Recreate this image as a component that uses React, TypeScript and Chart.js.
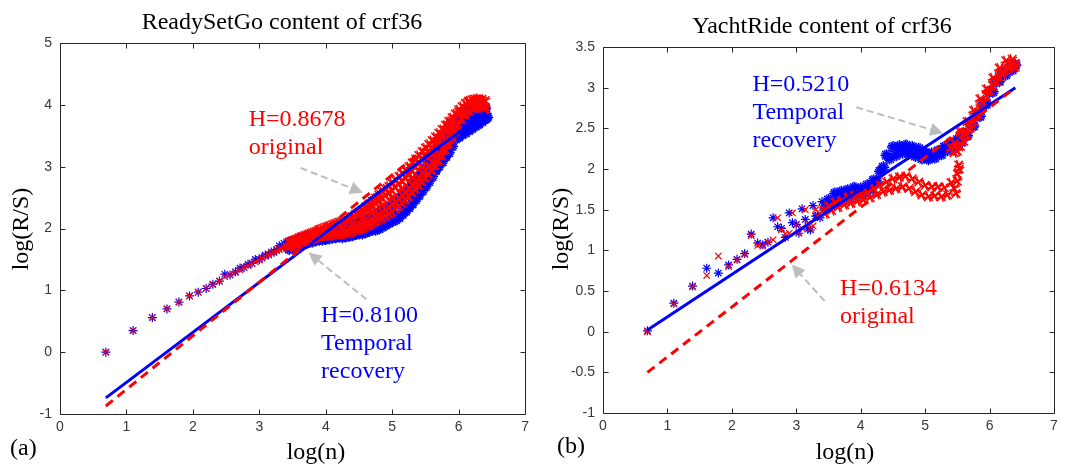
import React, { useEffect, useRef } from "react";
import { Chart, registerables } from "chart.js";
Chart.register(...registerables);

// ---------- shared x positions ----------
const lowX = [0.69, 1.1, 1.39, 1.61, 1.79, 1.95, 2.08, 2.2, 2.3, 2.4, 2.48, 2.56, 2.64, 2.71, 2.77, 2.83, 2.89, 2.94, 3.0, 3.04, 3.09, 3.14, 3.18, 3.22, 3.26, 3.3, 3.33, 3.37, 3.4];
const denseX = [3.45, 3.5, 3.55, 3.6, 3.65, 3.7, 3.75, 3.8, 3.85, 3.9, 3.95, 4.0, 4.05, 4.1, 4.15, 4.2, 4.25, 4.3, 4.35, 4.4, 4.45, 4.5, 4.55, 4.6, 4.65, 4.7, 4.75, 4.8, 4.85, 4.9, 4.95, 5.0, 5.05, 5.1, 5.15, 5.2, 5.25, 5.3, 5.35, 5.4, 5.45, 5.5, 5.55, 5.6, 5.65, 5.7, 5.75, 5.8, 5.85, 5.9, 5.95, 6.0, 6.05, 6.1, 6.15, 6.2, 6.25, 6.3, 6.35, 6.4];
const fitX = [0.69, 6.4];

// ---------- (a) ReadySetGo ----------
const aRedLowY = [0.0, 0.35, 0.56, 0.7, 0.81, 0.91, 0.97, 1.03, 1.09, 1.15, 1.22, 1.25, 1.29, 1.33, 1.37, 1.4, 1.43, 1.46, 1.49, 1.52, 1.55, 1.57, 1.6, 1.61, 1.64, 1.66, 1.68, 1.7, 1.71];
const aBlueLowY = [0.0, 0.35, 0.56, 0.7, 0.81, 0.91, 0.97, 1.03, 1.1, 1.15, 1.26, 1.25, 1.3, 1.36, 1.37, 1.42, 1.44, 1.5, 1.5, 1.53, 1.57, 1.58, 1.62, 1.62, 1.66, 1.72, 1.69, 1.76, 1.72];
const aRedMidY = [1.77, 1.76, 1.75, 1.83, 1.82, 1.81, 1.9, 1.88, 1.86, 1.97, 1.94, 1.9, 2.02, 1.98, 1.93, 2.06, 2.01, 1.97, 2.12, 2.07, 2.02, 2.2, 2.15, 2.1, 2.31, 2.26, 2.2, 2.43, 2.38, 2.31, 2.56, 2.5, 2.43, 2.71, 2.65, 2.58, 2.88, 2.82, 2.76, 3.06, 3.0, 2.94, 3.24, 3.18, 3.13, 3.44, 3.39, 3.35, 3.66, 3.63, 3.61, 3.88, 3.87, 3.86, 4.04, 4.01, 3.97, 4.08, 4.02, 3.96];
const aRedTopY = [1.78, 1.8, 1.82, 1.85, 1.87, 1.89, 1.91, 1.93, 1.95, 1.98, 2.0, 2.02, 2.04, 2.06, 2.08, 2.1, 2.11, 2.14, 2.17, 2.19, 2.23, 2.26, 2.3, 2.35, 2.39, 2.44, 2.49, 2.54, 2.59, 2.64, 2.68, 2.73, 2.78, 2.84, 2.89, 2.94, 3.0, 3.06, 3.12, 3.18, 3.24, 3.3, 3.36, 3.42, 3.48, 3.54, 3.6, 3.67, 3.73, 3.79, 3.85, 3.92, 3.97, 4.02, 4.06, 4.08, 4.09, 4.1, 4.09, 4.07];
const aRedBotY = [1.7, 1.72, 1.74, 1.75, 1.77, 1.79, 1.81, 1.83, 1.85, 1.86, 1.88, 1.88, 1.88, 1.9, 1.9, 1.9, 1.91, 1.92, 1.93, 1.95, 1.97, 1.98, 2.0, 2.03, 2.05, 2.08, 2.11, 2.14, 2.17, 2.2, 2.24, 2.27, 2.32, 2.36, 2.41, 2.46, 2.52, 2.58, 2.64, 2.7, 2.76, 2.82, 2.88, 2.94, 3.02, 3.1, 3.18, 3.27, 3.37, 3.47, 3.57, 3.68, 3.77, 3.84, 3.9, 3.94, 3.95, 3.96, 3.95, 3.93];
const aRedWideX = [4.5, 4.55, 4.6, 4.65, 4.7, 4.75, 4.8, 4.85, 4.9, 4.95, 5.0, 5.05, 5.1, 5.15, 5.2, 5.25, 5.3, 5.35, 5.4, 5.45, 5.5, 5.55, 5.6, 5.65, 5.7, 5.75, 5.8, 5.85, 5.9];
const aRedWideHiY = [2.24, 2.27, 2.31, 2.34, 2.38, 2.42, 2.46, 2.5, 2.54, 2.58, 2.62, 2.67, 2.72, 2.77, 2.82, 2.88, 2.94, 3.0, 3.06, 3.12, 3.18, 3.24, 3.3, 3.37, 3.44, 3.51, 3.59, 3.67, 3.74];
const aRedWideLoY = [2.0, 2.03, 2.07, 2.1, 2.14, 2.18, 2.22, 2.26, 2.3, 2.34, 2.38, 2.43, 2.48, 2.53, 2.58, 2.64, 2.7, 2.76, 2.82, 2.88, 2.94, 3.0, 3.06, 3.13, 3.2, 3.27, 3.35, 3.43, 3.51];
const aBlueMidY = [1.75, 1.74, 1.73, 1.82, 1.8, 1.77, 1.87, 1.84, 1.82, 1.91, 1.88, 1.84, 1.95, 1.91, 1.87, 1.99, 1.94, 1.89, 2.02, 1.97, 1.92, 2.07, 2.02, 1.97, 2.13, 2.08, 2.03, 2.21, 2.16, 2.1, 2.31, 2.25, 2.19, 2.43, 2.38, 2.32, 2.6, 2.55, 2.5, 2.81, 2.76, 2.71, 3.03, 2.99, 2.95, 3.25, 3.21, 3.18, 3.46, 3.47, 3.48, 3.73, 3.76, 3.79, 3.9, 3.88, 3.86, 3.92, 3.89, 3.86];
const aBlueTopY = [1.77, 1.79, 1.81, 1.83, 1.85, 1.86, 1.88, 1.89, 1.91, 1.92, 1.94, 1.95, 1.96, 1.97, 1.98, 1.99, 2.02, 2.03, 2.04, 2.05, 2.07, 2.08, 2.12, 2.14, 2.16, 2.18, 2.24, 2.26, 2.29, 2.32, 2.35, 2.38, 2.44, 2.48, 2.53, 2.58, 2.64, 2.7, 2.77, 2.84, 2.91, 2.98, 3.06, 3.14, 3.2, 3.27, 3.34, 3.42, 3.49, 3.59, 3.63, 3.73, 3.82, 3.89, 3.92, 3.94, 3.95, 3.96, 3.95, 3.94];
const aBlueBotY = [1.67, 1.69, 1.71, 1.73, 1.75, 1.76, 1.78, 1.79, 1.81, 1.82, 1.82, 1.83, 1.84, 1.85, 1.86, 1.87, 1.86, 1.87, 1.88, 1.89, 1.91, 1.92, 1.92, 1.94, 1.96, 1.98, 1.98, 2.0, 2.03, 2.06, 2.09, 2.12, 2.14, 2.18, 2.23, 2.28, 2.34, 2.4, 2.47, 2.54, 2.61, 2.68, 2.76, 2.84, 2.94, 3.01, 3.08, 3.16, 3.23, 3.33, 3.51, 3.61, 3.7, 3.77, 3.8, 3.82, 3.83, 3.84, 3.83, 3.82];
const aBlueLoopX = [5.95, 6.0, 6.05, 6.1, 6.15, 6.2, 6.25, 6.3, 6.35, 6.4, 6.43];
const aBlueLoopY = [3.45, 3.48, 3.52, 3.55, 3.59, 3.62, 3.66, 3.69, 3.73, 3.77, 3.8];
const aBlueFitY = [-0.74, 3.88];
const aRedFitY = [-0.87, 4.08];

// ---------- (b) YachtRide ----------
const bRedLowY = [0.0, 0.34, 0.55, 0.69, 0.93, 0.8, 0.88, 0.95, 1.18, 1.06, 1.05, 1.1, 1.13, 1.4, 1.25, 1.2, 1.21, 1.46, 1.31, 1.22, 1.27, 1.5, 1.33, 1.27, 1.3, 1.5, 1.42, 1.45, 1.52];
const bBlueLowY = [0.01, 0.35, 0.56, 0.78, 0.72, 0.82, 0.89, 0.96, 1.2, 1.09, 1.07, 1.1, 1.4, 1.29, 1.27, 1.16, 1.46, 1.34, 1.32, 1.21, 1.51, 1.38, 1.26, 1.25, 1.55, 1.42, 1.43, 1.4, 1.6];
const bBlueDenseY = [1.52, 1.62, 1.56, 1.7, 1.61, 1.72, 1.64, 1.74, 1.67, 1.77, 1.69, 1.76, 1.71, 1.8, 1.75, 1.86, 1.84, 1.97, 2.02, 2.17, 2.13, 2.27, 2.17, 2.28, 2.2, 2.29, 2.19, 2.27, 2.16, 2.25, 2.13, 2.2, 2.12, 2.19, 2.14, 2.22, 2.18, 2.27, 2.23, 2.32, 2.27, 2.36, 2.33, 2.44, 2.41, 2.55, 2.53, 2.66, 2.65, 2.8, 2.8, 2.95, 2.95, 3.08, 3.08, 3.18, 3.16, 3.24, 3.22, 3.28];
const bRedLowerX = [3.45, 3.5, 3.55, 3.6, 3.65, 3.7, 3.75, 3.8, 3.85, 3.9, 3.95, 4.0, 4.05, 4.1, 4.15, 4.2, 4.25, 4.3, 4.35, 4.4, 4.45, 4.5, 4.55, 4.6, 4.65, 4.7, 4.75, 4.8, 4.85, 4.9, 4.95, 5.0, 5.05, 5.1, 5.15, 5.2, 5.25, 5.3, 5.35, 5.4, 5.45, 5.5, 5.48, 5.5, 5.52, 5.53];
const bRedLowerY = [1.45, 1.54, 1.49, 1.59, 1.53, 1.61, 1.56, 1.65, 1.58, 1.67, 1.6, 1.69, 1.62, 1.71, 1.65, 1.76, 1.69, 1.8, 1.72, 1.84, 1.74, 1.88, 1.76, 1.9, 1.78, 1.91, 1.76, 1.88, 1.72, 1.84, 1.68, 1.8, 1.66, 1.78, 1.67, 1.78, 1.66, 1.77, 1.68, 1.83, 1.76, 1.94, 1.7, 1.85, 2.05, 2.0];
const bRedUpperX = [5.4, 5.45, 5.5, 5.55, 5.6, 5.65, 5.7, 5.75, 5.8, 5.85, 5.9, 5.95, 6.0, 6.05, 6.1, 6.15, 6.2, 6.25, 6.3, 6.35, 6.4];
const bRedUpperY = [2.25, 2.32, 2.28, 2.45, 2.42, 2.58, 2.55, 2.72, 2.68, 2.86, 2.82, 2.98, 2.96, 3.12, 3.08, 3.24, 3.2, 3.33, 3.28, 3.35, 3.3];
const bRedUpper2X = [5.45, 5.5, 5.55, 5.6, 5.65, 5.7, 5.75, 5.8, 5.85, 5.9, 5.95, 6.0, 6.05, 6.1, 6.15, 6.2, 6.25, 6.3, 6.35, 6.4];
const bRedUpper2Y = [2.2, 2.22, 2.28, 2.34, 2.42, 2.5, 2.58, 2.66, 2.74, 2.82, 2.9, 2.96, 3.02, 3.08, 3.13, 3.17, 3.21, 3.24, 3.26, 3.25];
const bBlueFitY = [0.02, 3.0];
const bRedFitX = [0.69, 6.35];
const bRedFitY = [-0.5, 2.97];

const RED = "#ff0000";
const BLUE = "#0000ff";
const GREY = "#bdbdbd";
const SERIF = "'Liberation Serif', 'Times New Roman', serif";
const SANS = "'Liberation Sans', Arial, sans-serif";

type Pt = { x: number; y: number };
const zip = (xs: number[], ys: number[]): Pt[] => xs.map((x, i) => ({ x, y: ys[i] }));

type Annot = { lines: string[]; color: string; at: Pt; arrowFrom: Pt; arrowTo: Pt };
type Panel = {
  title: string; titleX: number; titleY: number;
  xLabelX: number; xLabelY: number; yLabelX: number; yLabelY: number;
  tag: string; tagX: number; tagY: number;
  yMin: number; yMax: number; yStep: number;
  pad: { top: number; right: number; left: number; bottom: number };
  yWidth: number; xHeight: number;
  blueLow: Pt[]; redLow: Pt[]; blueDense: Pt[]; redDense: Pt[]; blueFit: Pt[]; redFit: Pt[];
  annots: Annot[];
};

const panelA: Panel = {
  title: "ReadySetGo content of crf36", titleX: 282, titleY: 29,
  xLabelX: 316, xLabelY: 459, yLabelX: 28, yLabelY: 229,
  tag: "(a)", tagX: 10, tagY: 455,
  yMin: -1, yMax: 5, yStep: 1,
  pad: { top: 43, right: 6, left: 0, bottom: 0 }, yWidth: 60, xHeight: 54,
  blueLow: zip(lowX, aBlueLowY),
  redLow: zip(lowX, aRedLowY),
  blueDense: [...zip(denseX, aBlueMidY), ...zip(denseX, aBlueTopY), ...zip(denseX, aBlueBotY), ...zip(aBlueLoopX, aBlueLoopY)],
  redDense: [...zip(denseX, aRedMidY), ...zip(denseX, aRedTopY), ...zip(denseX, aRedBotY), ...zip(aRedWideX, aRedWideHiY), ...zip(aRedWideX, aRedWideLoY)],
  blueFit: zip(fitX, aBlueFitY),
  redFit: zip(fitX, aRedFitY),
  annots: [
    { lines: ["H=0.8678", "original"], color: RED, at: { x: 2.84, y: 3.66 }, arrowFrom: { x: 3.62, y: 2.98 }, arrowTo: { x: 4.56, y: 2.58 } },
    { lines: ["H=0.8100", "Temporal", "recovery"], color: BLUE, at: { x: 3.93, y: 0.48 }, arrowFrom: { x: 4.61, y: 0.855 }, arrowTo: { x: 3.74, y: 1.61 } },
  ],
};

const panelB: Panel = {
  title: "YachtRide content of crf36", titleX: 288, titleY: 33,
  xLabelX: 311, xLabelY: 459, yLabelX: 34, yLabelY: 229,
  tag: "(b)", tagX: 23, tagY: 453,
  yMin: -1, yMax: 3.5, yStep: 0.5,
  pad: { top: 47, right: 14, left: 0, bottom: 0 }, yWidth: 69, xHeight: 55,
  blueLow: zip(lowX, bBlueLowY),
  redLow: zip(lowX, bRedLowY),
  blueDense: zip(denseX, bBlueDenseY),
  redDense: [...zip(bRedLowerX, bRedLowerY), ...zip(bRedUpperX, bRedUpperY), ...zip(bRedUpper2X, bRedUpper2Y)],
  blueFit: zip(fitX, bBlueFitY),
  redFit: zip(bRedFitX, bRedFitY),
  annots: [
    { lines: ["H=0.5210", "Temporal", "recovery"], color: BLUE, at: { x: 2.32, y: 2.96 }, arrowFrom: { x: 3.93, y: 2.76 }, arrowTo: { x: 5.28, y: 2.44 } },
    { lines: ["H=0.6134", "original"], color: RED, at: { x: 3.68, y: 0.445 }, arrowFrom: { x: 3.44, y: 0.375 }, arrowTo: { x: 2.93, y: 0.825 } },
  ],
};

function makeDecor(p: Panel) {
  return {
    id: "decor",
    afterDraw(chart: any) {
      const ctx: CanvasRenderingContext2D = chart.ctx;
      const xs = chart.scales.x;
      const ys = chart.scales.y;
      const a = chart.chartArea;
      ctx.save();
      ctx.strokeStyle = "#262626";
      ctx.lineWidth = 1;
      ctx.setLineDash([]);
      const L = Math.round(a.left) + 0.5, R = Math.round(a.right) + 0.5;
      const T = Math.round(a.top) + 0.5, B = Math.round(a.bottom) + 0.5;
      ctx.beginPath();
      ctx.rect(L, T, R - L, B - T);
      for (const t of xs.ticks) {
        const px = Math.round(xs.getPixelForValue(t.value)) + 0.5;
        ctx.moveTo(px, B); ctx.lineTo(px, B - 5);
        ctx.moveTo(px, T); ctx.lineTo(px, T + 5);
      }
      for (const t of ys.ticks) {
        const py = Math.round(ys.getPixelForValue(t.value)) + 0.5;
        ctx.moveTo(L, py); ctx.lineTo(L + 5, py);
        ctx.moveTo(R, py); ctx.lineTo(R - 5, py);
      }
      ctx.stroke();

      ctx.fillStyle = "#000";
      ctx.font = `24px ${SERIF}`;
      ctx.textBaseline = "alphabetic";
      ctx.textAlign = "center";
      ctx.fillText(p.title, p.titleX, p.titleY);
      ctx.fillText("log(n)", p.xLabelX, p.xLabelY);
      ctx.save();
      ctx.translate(p.yLabelX, p.yLabelY);
      ctx.rotate(-Math.PI / 2);
      ctx.fillText("log(R/S)", 0, 0);
      ctx.restore();
      ctx.textAlign = "left";
      ctx.fillText(p.tag, p.tagX, p.tagY);

      for (const an of p.annots) {
        ctx.fillStyle = an.color;
        ctx.font = `24px ${SERIF}`;
        ctx.textAlign = "left";
        const tx = xs.getPixelForValue(an.at.x);
        const ty = ys.getPixelForValue(an.at.y);
        an.lines.forEach((s, i) => ctx.fillText(s, tx, ty + i * 28));
        const x0 = xs.getPixelForValue(an.arrowFrom.x), y0 = ys.getPixelForValue(an.arrowFrom.y);
        const x1 = xs.getPixelForValue(an.arrowTo.x), y1 = ys.getPixelForValue(an.arrowTo.y);
        const ang = Math.atan2(y1 - y0, x1 - x0);
        const hl = 13, hw = 6.5;
        const bx = x1 - hl * Math.cos(ang), by = y1 - hl * Math.sin(ang);
        ctx.strokeStyle = GREY;
        ctx.fillStyle = GREY;
        ctx.lineWidth = 2;
        ctx.setLineDash([7, 4]);
        ctx.beginPath();
        ctx.moveTo(x0, y0);
        ctx.lineTo(bx, by);
        ctx.stroke();
        ctx.setLineDash([]);
        ctx.beginPath();
        ctx.moveTo(x1, y1);
        ctx.lineTo(bx + hw * Math.sin(ang), by - hw * Math.cos(ang));
        ctx.lineTo(bx - hw * Math.sin(ang), by + hw * Math.cos(ang));
        ctx.closePath();
        ctx.fill();
      }
      ctx.restore();
    },
  };
}

// dense regions of the original are many overlapping markers: draw them in a few layers
function markerLayers(label: string, data: Pt[], color: string, style: string, dense: boolean, order: number) {
  const base = { label, data, borderColor: color, backgroundColor: color, pointStyle: style, order } as any;
  if (!dense) return [{ ...base, pointRadius: 4.5, pointBorderWidth: 1.2 }];
  return [
    { ...base, pointRadius: 6, pointBorderWidth: 1.5 },
    { ...base, label: label + " b", pointRadius: 5.5, pointBorderWidth: 1.4, pointRotation: 22 },
    { ...base, label: label + " c", pointRadius: 3, pointBorderWidth: 1.4, pointRotation: 11 },
  ];
}

function ChartPanel({ panel, left }: { panel: Panel; left: number }) {
  const ref = useRef<HTMLCanvasElement | null>(null);
  useEffect(() => {
    if (!ref.current) return;
    const p = panel;
    const tickCb = (v: any) => `${+Number(v).toFixed(2)}`;
    const chart = new Chart(ref.current, {
      type: "scatter",
      data: {
        datasets: [
          { label: "red fit", data: p.redFit, showLine: true, borderColor: RED, borderWidth: 3, borderDash: [9, 6], pointRadius: 0, order: 1 } as any,
          { label: "blue fit", data: p.blueFit, showLine: true, borderColor: BLUE, borderWidth: 3, pointRadius: 0, order: 2 } as any,
          ...markerLayers("original", p.redLow, RED, "crossRot", false, 3),
          ...markerLayers("original dense", p.redDense, RED, "crossRot", true, 3),
          ...markerLayers("recovery", p.blueLow, BLUE, "star", false, 4),
          ...markerLayers("recovery dense", p.blueDense, BLUE, "star", true, 4),
        ],
      },
      options: {
        responsive: false,
        animation: false,
        layout: { padding: p.pad },
        plugins: { legend: { display: false }, tooltip: { enabled: false }, title: { display: false } },
        scales: {
          x: {
            type: "linear", min: 0, max: 7,
            ticks: { stepSize: 1, color: "#383838", font: { family: SANS, size: 14 }, padding: 5, callback: tickCb },
            grid: { display: false, drawTicks: false },
            border: { display: false },
            afterFit: (s: any) => { s.height = p.xHeight; },
          },
          y: {
            type: "linear", min: p.yMin, max: p.yMax,
            ticks: { stepSize: p.yStep, color: "#383838", font: { family: SANS, size: 14 }, padding: 8, callback: tickCb },
            grid: { display: false, drawTicks: false },
            border: { display: false },
            afterFit: (s: any) => { s.width = p.yWidth; },
          },
        },
      },
      plugins: [makeDecor(p)],
    });
    return () => chart.destroy();
  }, [panel]);
  return (
    <canvas
      ref={ref}
      width={534}
      height={468}
      style={{ position: "absolute", left, top: 0, width: 534, height: 468, display: "block" }}
    />
  );
}

export default function App() {
  return (
    <div style={{ position: "fixed", left: 0, top: 0, width: 1068, height: 468, background: "#fff" }}>
      <ChartPanel panel={panelA} left={0} />
      <ChartPanel panel={panelB} left={534} />
    </div>
  );
}
